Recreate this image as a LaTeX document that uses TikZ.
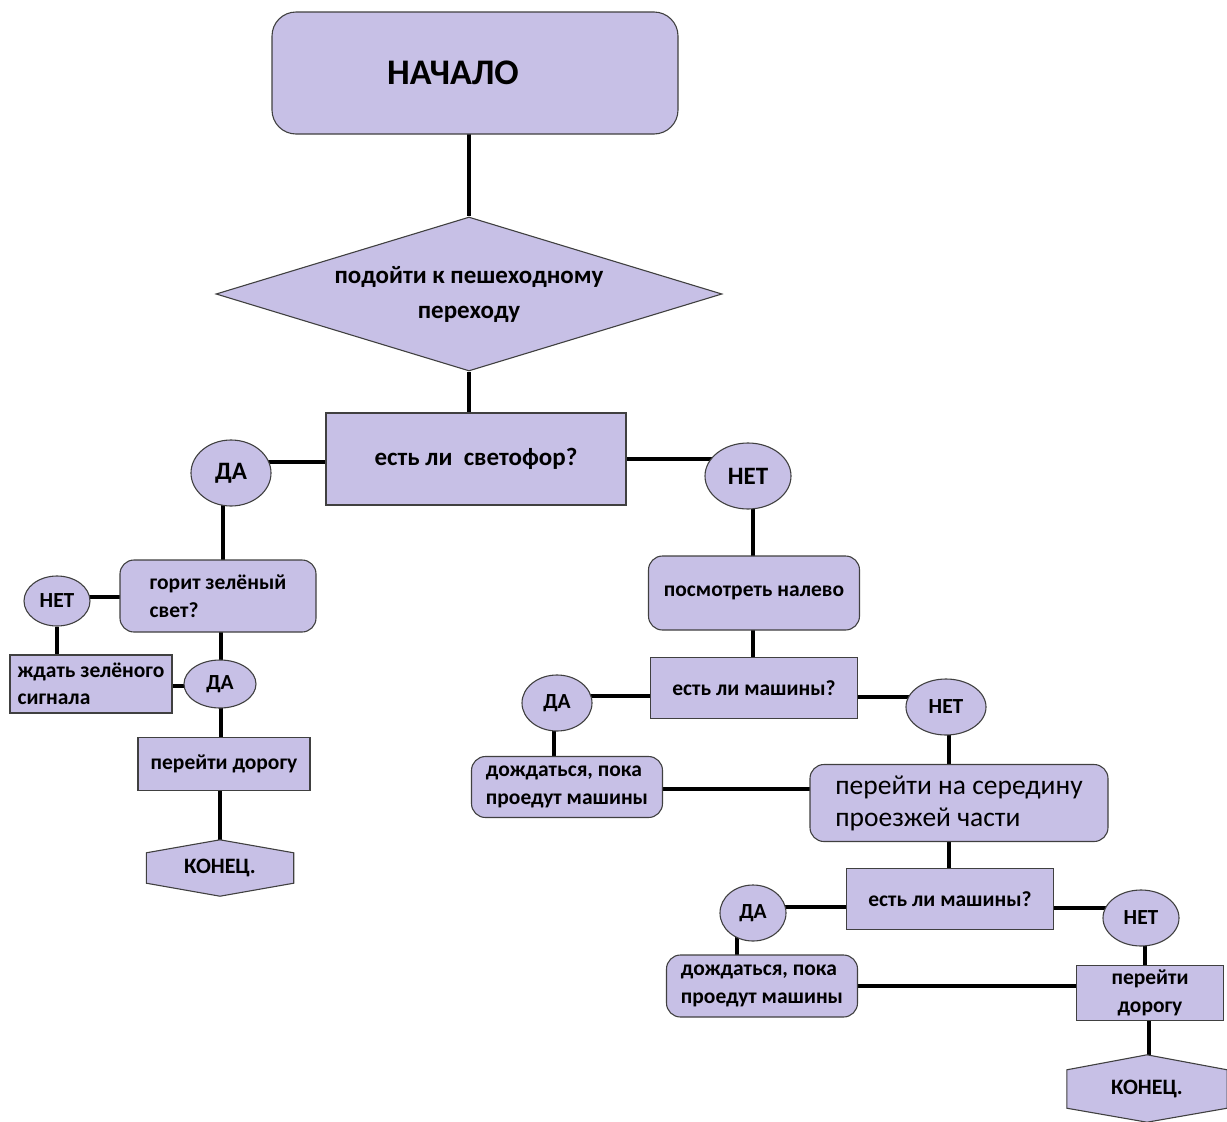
\documentclass[tikz,border=0pt]{standalone}
\usepackage{fontspec}
\setmainfont{Carlito}
\usetikzlibrary{shapes, backgrounds}

\definecolor{boxfill}{HTML}{C7C0E6}
\definecolor{boxline}{HTML}{404040}

\tikzset{
  shapeline/.style={draw=boxline, fill=boxfill, line width=1.1pt},
  startbox/.style={shapeline, rectangle, rounded corners=24pt, inner sep=0},
  decision/.style={shapeline, diamond, aspect=3.3, inner sep=0},
  plainbox/.style={shapeline, rectangle, inner sep=0},
  softbox/.style={shapeline, rectangle, rounded corners=14pt, inner sep=0},
  answer/.style={shapeline, ellipse, inner sep=0},
  hexlabel/.style={rectangle, inner sep=0},
  link/.style={line width=3.5pt, black},
  bigtxt/.style={font=\bfseries\fontsize{25}{35}\selectfont},
  smalltxt/.style={font=\bfseries\fontsize{21.5}{27.5}\selectfont}
}

\begin{document}
\begin{tikzpicture}[x=1pt, y=-1pt]
\useasboundingbox (0,0) rectangle (1227,1122);

\node (start) at (475,73) [startbox, minimum width=406, minimum height=122, font=\bfseries\fontsize{36}{40}\selectfont] {\hspace*{-44pt}НАЧАЛО};
\node (dec) at (469,294) [decision, minimum width=506, minimum height=154, bigtxt, align=center] {подойти к пешеходному\\переходу};
\node (svet) at (476,459) [plainbox, minimum width=300, minimum height=92, bigtxt] {есть ли\ \ светофор?};
\node (da1) at (231,473) [answer, minimum width=80, minimum height=66, bigtxt] {ДА};
\node (net1) at (748,476) [answer, minimum width=86, minimum height=66, bigtxt] {НЕТ};

\node (gz) at (218,596) [softbox, minimum width=196, minimum height=72, smalltxt, align=left] {горит зелёный\\свет?};
\node (net2) at (57,601) [answer, minimum width=66, minimum height=50, smalltxt] {НЕТ};
\node (wait) at (91,684) [plainbox, minimum width=162, minimum height=58, smalltxt, align=left] {ждать зелёного\\сигнала};
\node (da2) at (220,684) [answer, minimum width=72, minimum height=48, smalltxt] {ДА};
\node (cross1) at (224,764) [plainbox, minimum width=172, minimum height=53, smalltxt] {перейти дорогу};
\node (end1) at (220,868) [hexlabel, minimum width=147, minimum height=30, font=\bfseries\fontsize{22}{24}\selectfont] {КОНЕЦ.};

\node (look) at (754,593) [softbox, minimum width=211, minimum height=74, smalltxt] {посмотреть налево};
\node (cars1) at (754,688) [plainbox, minimum width=207, minimum height=61, smalltxt] {есть ли машины?};
\node (da3) at (557,703) [answer, minimum width=70, minimum height=56, smalltxt] {ДА};
\node (net3) at (946,707) [answer, minimum width=80, minimum height=56, smalltxt] {НЕТ};
\node (wait2) at (567,787) [softbox, minimum width=191, minimum height=61, smalltxt, align=left] {дождаться, пока\\проедут машины};
\node (mid) at (959,803) [softbox, minimum width=298, minimum height=77, font=\fontsize{27.5}{32}\selectfont, align=left] {перейти на середину\\проезжей части};

\node (cars2) at (950,899) [plainbox, minimum width=207, minimum height=61, smalltxt] {есть ли машины?};
\node (da4) at (753,913) [answer, minimum width=66, minimum height=56, smalltxt] {ДА};
\node (net4) at (1141,918) [answer, minimum width=76, minimum height=56, smalltxt] {НЕТ};
\node (wait3) at (762,986) [softbox, minimum width=191, minimum height=62, smalltxt, align=left] {дождаться, пока\\проедут машины};
\node (cross2) at (1150,993) [plainbox, minimum width=147, minimum height=55, smalltxt, align=center] {перейти\\дорогу};
\node (end2) at (1147,1089) [hexlabel, minimum width=160, minimum height=38, font=\bfseries\fontsize{22}{24}\selectfont] {КОНЕЦ.};

\begin{scope}[on background layer]
\draw[link] (dec |- start) -- (dec);
\draw[link] (dec) -- (dec |- svet);
\draw[link] (da1 |- 0,462) -- (svet |- 0,462);
\draw[link] (svet |- 0,459) -- (net1 |- 0,459);
\draw[link] (223,0 |- da1) -- (223,0 |- gz);
\draw[link] (net2 |- 0,597) -- (gz |- 0,597);
\draw[link] (net2) -- (net2 |- wait);
\draw[link] (221,0 |- gz) -- (221,0 |- da2);
\draw[link] (wait |- 0,686) -- (da2 |- 0,686);
\draw[link] (221,0 |- da2) -- (221,0 |- cross1);
\draw[link] (220,0 |- cross1) -- (220,0 |- end1);
\draw[link] (753,0 |- net1) -- (753,0 |- look);
\draw[link] (753,0 |- look) -- (753,0 |- cars1);
\draw[link] (da3 |- 0,696) -- (cars1 |- 0,696);
\draw[link] (cars1 |- 0,697) -- (net3 |- 0,697);
\draw[link] (554,0 |- da3) -- (554,0 |- wait2);
\draw[link] (wait2 |- 0,789) -- (mid |- 0,789);
\draw[link] (949,0 |- net3) -- (949,0 |- mid);
\draw[link] (949,0 |- mid) -- (949,0 |- cars2);
\draw[link] (da4 |- 0,907) -- (cars2 |- 0,907);
\draw[link] (cars2 |- 0,908) -- (net4 |- 0,908);
\draw[link] (737,0 |- da4) -- (737,0 |- wait3);
\draw[link] (1145,0 |- net4) -- (1145,0 |- cross2);
\draw[link] (wait3 |- 0,986) -- (cross2 |- 0,986);
\draw[link] (1149,0 |- cross2) -- (1149,0 |- end2);

\draw[shapeline] (end1.north west) -- ([yshift=13pt]end1.north) -- (end1.north east) -- (end1.south east) -- ([yshift=-13pt]end1.south) -- (end1.south west) -- cycle;
\draw[shapeline] (end2.north west) -- ([yshift=15pt]end2.north) -- (end2.north east) -- (end2.south east) -- ([yshift=-14pt]end2.south) -- (end2.south west) -- cycle;
\end{scope}
\end{tikzpicture}
\end{document}
